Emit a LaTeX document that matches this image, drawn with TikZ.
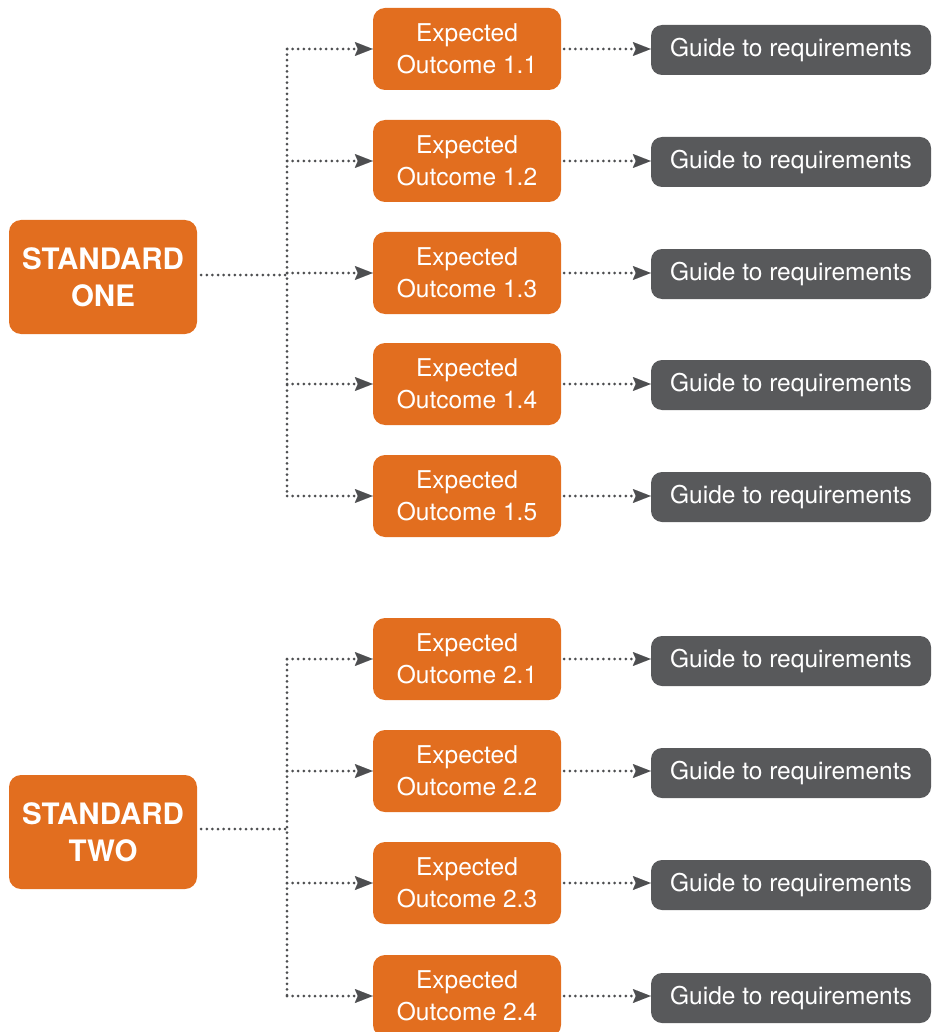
\documentclass[tikz,border=0pt]{standalone}
\usepackage{fontspec}
\setmainfont{TeX Gyre Heros}
\usetikzlibrary{arrows.meta}
\definecolor{stdorange}{HTML}{E26E1F}
\definecolor{guidegray}{HTML}{58595B}
\definecolor{linkgray}{HTML}{4D4E50}
\begin{document}
\begin{tikzpicture}[x=1pt,y=-1pt,
  standardbox/.style={fill=stdorange, rounded corners=12pt, minimum width=188pt, minimum height=114pt,
    text=white, align=center, inner sep=0pt, font=\fontsize{29.5}{37}\selectfont\bfseries},
  outcomebox/.style={fill=stdorange, rounded corners=12pt, minimum width=188pt, minimum height=82pt,
    text=white, align=center, inner sep=0pt, font=\fontsize{24.5}{32}\selectfont},
  guidebox/.style={fill=guidegray, rounded corners=11pt, minimum width=280pt, minimum height=50pt,
    text=white, inner sep=0pt, font=\fontsize{24.5}{28}\selectfont},
  link/.style={draw=linkgray, line width=3pt, line cap=round, dash pattern=on 0pt off 5.6pt},
  tipshape/.tip={Stealth[length=18pt,width=14pt,inset=3pt,line width=0.01pt,fill=linkgray]},
  arrowlink/.style={link, -tipshape},
]
\useasboundingbox (0,0) rectangle (936,1032);

% standard one
\node[standardbox] (s1) at (103,277) {STANDARD\\ONE};
\coordinate (j1) at (287,275);
\foreach \k/\y in {1/49,2/161,3/273,4/384,5/496}{
  \node[outcomebox] (e1\k) at (467,\y) {Expected\\Outcome 1.\k};
  \node[guidebox] (g1\k) at (791,\y+1) {Guide to requirements};
}
\draw[link] ([xshift=4pt]s1.east |- j1) -- (j1);
\draw[link] (j1 |- e11.west) -- (j1 |- e15.west);
\foreach \k in {1,...,5}{
  \draw[arrowlink] (j1 |- e1\k.west) -- (e1\k.west);
  \draw[arrowlink] ([xshift=3pt]e1\k.east) -- (g1\k.west |- e1\k.east);
}

% standard two
\node[standardbox] (s2) at (103,832) {STANDARD\\TWO};
\coordinate (j2) at (287,829);
\foreach \k/\y in {1/659,2/771,3/883,4/996}{
  \node[outcomebox] (e2\k) at (467,\y) {Expected\\Outcome 2.\k};
  \node[guidebox] (g2\k) at (791,\y+2) {Guide to requirements};
}
\draw[link] ([xshift=4pt]s2.east |- j2) -- (j2);
\draw[link] (j2 |- e21.west) -- (j2 |- e24.west);
\foreach \k in {1,...,4}{
  \draw[arrowlink] (j2 |- e2\k.west) -- (e2\k.west);
  \draw[arrowlink] ([xshift=3pt]e2\k.east) -- (g2\k.west |- e2\k.east);
}
\end{tikzpicture}
\end{document}
